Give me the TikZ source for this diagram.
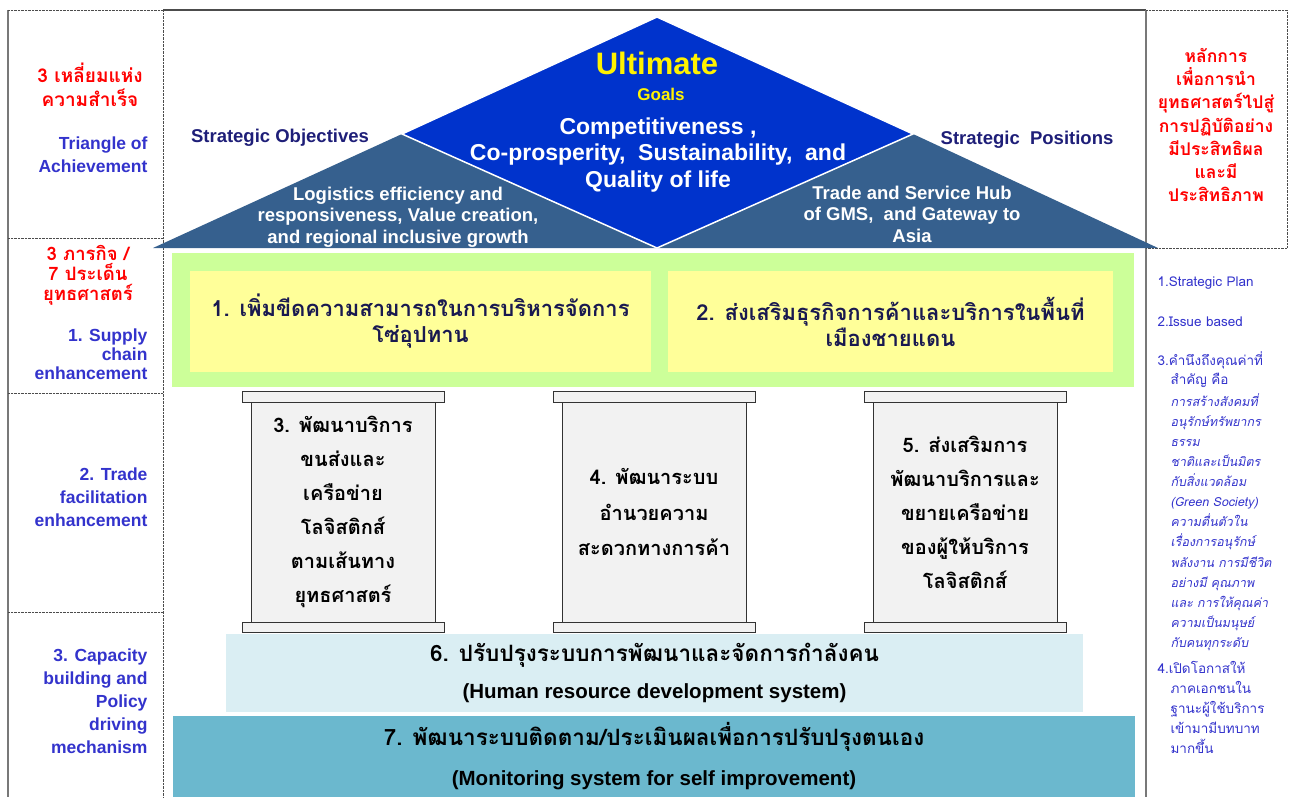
\documentclass[tikz,border=0pt]{standalone}
\usepackage{fontspec}
\setmainfont{Liberation Sans}
\newfontfamily\thaifont[Script=Thai]{Loma}
\newfontfamily\thaiitfont[Script=Thai,FakeSlant=0.2]{Loma}
\usetikzlibrary{positioning}

\definecolor{goalblue}{RGB}{0,51,204}
\definecolor{triblue}{RGB}{54,96,142}
\definecolor{labelnavy}{RGB}{30,30,120}
\definecolor{sideblue}{RGB}{51,51,204}
\definecolor{limegreen}{RGB}{204,255,153}
\definecolor{paleyellow}{RGB}{255,255,153}
\definecolor{pillargray}{RGB}{242,242,242}
\definecolor{paleblue}{RGB}{218,238,243}
\definecolor{deepteal}{RGB}{107,184,206}
\definecolor{framegray}{RGB}{120,120,120}
\definecolor{boxtext}{RGB}{25,25,80}

\tikzset{
  sidelabel/.style={anchor=east,align=right,text=sideblue,
    font=\fontsize{17.5}{23}\selectfont\bfseries},
  sidethai/.style={align=center,text=red,
    font=\fontsize{19}{24}\selectfont\thaifont\bfseries},
  notetext/.style={anchor=west,align=left,text=sideblue,
    font=\fontsize{13.5}{20}\selectfont\thaifont},
  notetextit/.style={anchor=north west,align=left,text=sideblue,
    font=\fontsize{12.5}{20}\selectfont\thaiitfont},
  tritext/.style={align=center,text=white,
    font=\fontsize{18.5}{21.5}\selectfont\bfseries},
  cornerlabel/.style={text=labelnavy,font=\fontsize{18.5}{20}\selectfont\bfseries},
  issuebox/.style={rectangle,fill=paleyellow,minimum width=461pt,minimum height=101pt,
    align=center,text=boxtext,font=\fontsize{22}{26}\selectfont\thaifont\bfseries},
  capital/.style={rectangle,draw=black!80,fill=pillargray,line width=0.9pt,
    minimum width=202pt,minimum height=10.5pt,inner sep=0pt},
  shaft/.style={rectangle,draw=black!80,fill=pillargray,line width=0.9pt,
    minimum width=184pt,minimum height=220pt,inner sep=0pt},
  pillartext/.style={align=center,font=\fontsize{20}{34}\selectfont\thaifont\bfseries},
  basetext/.style={align=center,font=\fontsize{22.5}{37}\selectfont\thaifont\bfseries}
}

\begin{document}
\begin{tikzpicture}[x=1pt,y=-1pt]
  \useasboundingbox (0,0) rectangle (1289,797);

  % frame of the side columns
  \draw[framegray,line width=1.2pt] (8,10) -- (8,797);
  \draw[black!70,densely dotted] (8,10) -- (163,10) (163,10) -- (163,797);
  \foreach \y in {238,393,612}
    \draw[black!70,densely dotted] (8,\y) -- (163,\y);
  \draw[black!70,line width=1.5pt] (163,10) -- (1146,10);
  \draw[framegray,line width=1.2pt] (1146,10) -- (1146,797);
  \draw[black!70,densely dotted] (1146,10) -- (1287,10) -- (1287,248) -- (1146,248);

  % roof: triangle of achievement
  \coordinate (roofL) at (153,248);
  \coordinate (roofM) at (657,248);
  \coordinate (roofR) at (1158,248);
  \coordinate (peak) at (657,17);
  \coordinate (objtop) at (402,134);
  \coordinate (postop) at (913,134);
  \fill[triblue] (roofL) -- (objtop) -- (roofM) -- cycle;
  \fill[triblue] (roofM) -- (postop) -- (roofR) -- cycle;
  \filldraw[fill=goalblue,draw=white,line width=1.5pt]
    (peak) -- (postop) -- (roofM) -- (objtop) -- cycle;

  \node[text=yellow,font=\fontsize{31}{31}\selectfont\bfseries] (ultimate) at (657,63) {Ultimate};
  \node[text=yellow,font=\fontsize{17}{17}\selectfont\bfseries] (goals) at (661,94) {Goals};
  \node[align=center,text=white,font=\fontsize{23}{26.5}\selectfont\bfseries] (goaltext) at (658,155)
    {Competitiveness ,\\Co-prosperity,~~Sustainability,~~and\\Quality of life};
  \node[cornerlabel] (objlabel) at (280,138) {Strategic Objectives};
  \node[cornerlabel] (poslabel) at (1027,140) {Strategic~~Positions};
  \node[tritext] (objtext) at (398,217)
    {Logistics efficiency and\\responsiveness, Value creation,\\and regional inclusive growth};
  \node[tritext] (postext) at (912,214)
    {Trade and Service Hub\\of GMS,~~and Gateway to\\Asia};

  % left column
  \node[sidethai] (trith) at (90,85) {3 เหลี่ยมแห่ง\\ความสำเร็จ};
  \node[sidelabel] (trien) at (151,154.5) {Triangle of\\Achievement};
  \node[sidethai,font=\fontsize{18.5}{20}\selectfont\thaifont\bfseries] (missionth) at (88,275)
    {3 ภารกิจ /\\7 ประเด็น\\ยุทธศาสตร์};
  \node[sidelabel,font=\fontsize{17.5}{19}\selectfont\bfseries] (supply) at (151,354)
    {1. Supply\\chain\\enhancement};
  \node[sidelabel] (trade) at (151,497.5) {2. Trade\\facilitation\\enhancement};
  \node[sidelabel] (capacity) at (151,701)
    {3. Capacity\\building and\\Policy\\driving\\mechanism};

  % right column
  \node[sidethai,font=\fontsize{17.5}{23.2}\selectfont\thaifont\bfseries] (principle) at (1216,125)
    {หลักการ\\เพื่อการนำ\\ยุทธศาสตร์ไปสู่\\การปฏิบัติอย่าง\\มีประสิทธิผล\\และมี\\ประสิทธิภาพ};
  \node[notetext] (noteA) at (1154,283) {1.Strategic Plan};
  \node[notetext] (noteB) at (1154,322) {2.Issue based};
  \node[notetext] (noteC) at (1154,360) {3.คำนึงถึงคุณค่าที่};
  \node[notetext] (noteCa) at (1167,380) {สำคัญ คือ};
  \node[notetextit] (noteCb) at (1167,390)
    {การสร้างสังคมที่\\อนุรักษ์ทรัพยากร\\ธรรม\\ชาติและเป็นมิตร\\กับสิ่งแวดล้อม\\(Green Society)\\ความตื่นตัวใน\\เรื่องการอนุรักษ์\\[1pt]พลังงาน การมีชีวิต\\อย่างมี คุณภาพ\\และ การให้คุณค่า\\ความเป็นมนุษย์\\กับคนทุกระดับ};
  \node[notetext,anchor=north west] (noteD) at (1154,658)
    {4.เปิดโอกาสให้\\\hspace*{13pt}ภาคเอกชนใน\\\hspace*{13pt}ฐานะผู้ใช้บริการ\\\hspace*{13pt}เข้ามามีบทบาท\\\hspace*{13pt}มากขึ้น};

  % two strategic issues under the roof
  \node[rectangle,fill=limegreen,minimum width=962pt,minimum height=134pt] (greenband) at (653,320) {};
  \node[issuebox] (issueA) at (420.5,321.5) {1. เพิ่มขีดความสามารถในการบริหารจัดการ\\โซ่อุปทาน};
  \node[issuebox,minimum width=445pt] (issueB) at (890.5,321.5) {2. ส่งเสริมธุรกิจการค้าและบริการในพื้นที่\\เมืองชายแดน};

  % three pillars
  \foreach \cx/\nm in {343/pa,654/pb,965/pc}{
    \node[shaft] (shaft\nm) at (\cx,512) {};
    \node[capital] (top\nm) at (\cx,397) {};
    \node[capital] (foot\nm) at (\cx,627.5) {};
  }
  \node[pillartext] at (shaftpa) {3. พัฒนาบริการ\\ขนส่งและ\\เครือข่าย\\โลจิสติกส์\\ตามเส้นทาง\\ยุทธศาสตร์};
  \node[pillartext,font=\fontsize{20}{35.5}\selectfont\thaifont\bfseries] at (shaftpb) {4. พัฒนาระบบ\\อำนวยความ\\สะดวกทางการค้า};
  \node[pillartext] at (shaftpc) {5. ส่งเสริมการ\\พัฒนาบริการและ\\ขยายเครือข่าย\\ของผู้ให้บริการ\\โลจิสติกส์};

  % foundation
  \node[rectangle,fill=paleblue,minimum width=857pt,minimum height=78pt,basetext] (hrd) at (654.5,673)
    {6. ปรับปรุงระบบการพัฒนาและจัดการกำลังคน\\{\fontspec{Liberation Sans}\fontsize{20.5}{20.5}\selectfont\bfseries (Human resource development system)}};
  \node[rectangle,fill=deepteal,minimum width=962pt,minimum height=81pt,basetext,font=\fontsize{22.5}{40}\selectfont\thaifont\bfseries] (monitor) at (654,756.5)
    {7. พัฒนาระบบติดตาม/ประเมินผลเพื่อการปรับปรุงตนเอง\\{\fontspec{Liberation Sans}\fontsize{20.5}{20.5}\selectfont\bfseries (Monitoring system for self improvement)}};
\end{tikzpicture}
\end{document}
